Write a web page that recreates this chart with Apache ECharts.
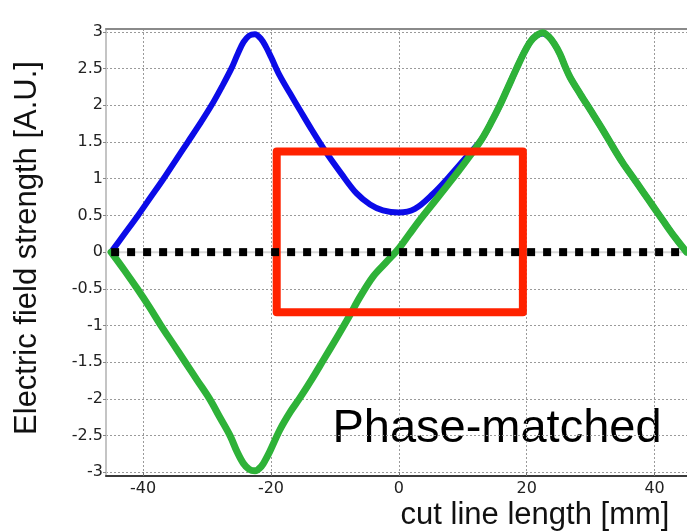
<!DOCTYPE html>
<html>
<head>
<meta charset="utf-8">
<title>Electric field along the cut line</title>
<script src="https://cdn.jsdelivr.net/npm/echarts@6/dist/echarts.min.js"></script>
<style>
  html, body { margin: 0; padding: 0; background: #ffffff; }
  #chart { width: 687px; height: 531px; }
</style>
</head>
<body>
<div id="chart"></div>
<script>
// Field profile along the cut line (x in mm, field in arbitrary units)
const blueX = [-45, -42.9, -40.8, -38.8, -36.8, -34.9, -33.0, -31.1, -29.3, -27.7, -26.2, -25.2, -24.3, -23.4, -22.5,
  -21.6, -20.8, -20, -18.6, -17, -15.5, -13.5, -11.3, -9, -6.6, -4.5, -2.5, 0, 2.5, 5.4, 8, 10.6,
  12.9, 14.4, 15.8, 17.1, 18.4, 19.6, 20.6, 21.5, 22.5, 23.4, 24.3, 25.2, 26, 26.8, 28.4, 30, 31.8,
  33.5, 35, 36.6, 38.2, 39.8, 41.4, 43.2, 45];
const blueY = [0, 0.25, 0.5, 0.75, 1.0, 1.25, 1.5, 1.75, 2.0, 2.25, 2.5, 2.7, 2.86, 2.95, 2.97,
  2.91, 2.8, 2.66, 2.4, 2.16, 1.94, 1.65, 1.35, 1.07, 0.8, 0.65, 0.57, 0.54, 0.59, 0.8, 1.04, 1.3,
  1.53, 1.76, 2.0, 2.25, 2.5, 2.72, 2.87, 2.95, 2.98, 2.94, 2.84, 2.7, 2.53, 2.38, 2.15, 1.93, 1.68,
  1.43, 1.22, 1.02, 0.82, 0.62, 0.42, 0.2, 0];

const greenX = [-45, -42.9, -40.9, -39.0, -37.2, -35.3, -33.4, -31.5, -29.6, -28, -26.4, -25.3, -24.3, -23.4, -22.5,
  -21.5, -20.8, -20.2, -18.6, -17, -15.5, -13.6, -11.8, -9.8, -7.8, -6, -4, -2, 0, 1.6, 3.3, 5.4,
  7.5, 9.3, 11.1, 12.9, 14.4, 15.8, 17.1, 18.4, 19.6, 20.6, 21.5, 22.5, 23.4, 24.3, 25.2, 26, 26.8,
  28.4, 30, 31.8, 33.5, 35, 36.6, 38.2, 39.8, 41.4, 43.2, 45];
const greenY = [0, -0.25, -0.5, -0.75, -1.0, -1.25, -1.5, -1.75, -2.0, -2.25, -2.5, -2.72, -2.88, -2.96, -2.98,
  -2.92, -2.82, -2.72, -2.42, -2.18, -1.99, -1.73, -1.47, -1.18, -0.88, -0.6, -0.33, -0.14, 0.05, 0.24, 0.44, 0.67,
  0.9, 1.1, 1.31, 1.53, 1.76, 2.0, 2.25, 2.5, 2.72, 2.87, 2.95, 2.99, 2.94, 2.84, 2.7, 2.53, 2.38,
  2.15, 1.93, 1.68, 1.43, 1.22, 1.02, 0.82, 0.62, 0.42, 0.2, 0];

// Zero reference (dotted) across the field region
const zeroX = [-45, 45];
const zeroY = [0, 0];

// Highlighted window around the centre
const boxX = [-19.1, 19.4, 19.4, -19.1, -19.1];
const boxY = [1.37, 1.37, -0.82, -0.82, 1.37];

// Axis extents and tick labels
const xRange = [-45.8, 45.07];
const yRange = [-3.05, 3.04];
const xTicks = [-40, -20, 0, 20, 40];
const yTicks = [-3, -2.5, -2, -1.5, -1, -0.5, 0, 0.5, 1, 1.5, 2, 2.5, 3];

const zip = (xs, ys) => xs.map((x, i) => [x, ys[i]]);
const FONT = '"Liberation Sans", Arial, Helvetica, sans-serif';
const TICK_FONT = '"DejaVu Sans", sans-serif';

const chart = echarts.init(document.getElementById('chart'), null, { renderer: 'canvas' });

chart.setOption({
  animation: false,
  backgroundColor: '#ffffff',
  grid: { left: 106, top: 29, right: 0, bottom: 55, containLabel: false },
  xAxis: [{
    type: 'value',
    position: 'bottom',
    min: xRange[0],
    max: xRange[1],
    axisLine: { show: true, onZero: false, lineStyle: { color: '#3a3a3a', width: 2 } },
    axisTick: { show: true, inside: true, length: 4, customValues: xTicks, lineStyle: { color: '#777' } },
    axisLabel: { customValues: xTicks, color: '#222', fontFamily: TICK_FONT, fontSize: 16, margin: 5 },
    splitLine: { show: true, lineStyle: { color: '#9a9a9a', width: 1, type: [2, 2] } }
  }, {
    type: 'value',
    position: 'top',
    min: xRange[0],
    max: xRange[1],
    axisLine: { show: true, onZero: false, lineStyle: { color: '#8a8a8a', width: 2 } },
    axisTick: { show: false },
    axisLabel: { show: false },
    splitLine: { show: false }
  }],
  yAxis: {
    type: 'value',
    min: yRange[0],
    max: yRange[1],
    axisLine: { show: true, onZero: false, lineStyle: { color: '#c4c4c4', width: 2 } },
    axisTick: { show: true, inside: false, length: 3, customValues: yTicks, lineStyle: { color: '#888' } },
    axisLabel: { customValues: yTicks, color: '#222', fontFamily: TICK_FONT, fontSize: 16, margin: 3 },
    splitLine: { show: true, lineStyle: { color: '#9a9a9a', width: 1, type: [2, 2] } }
  },
  series: [
    {
      name: 'zero guide',
      type: 'line',
      data: zip(xRange, zeroY),
      showSymbol: false,
      silent: true,
      lineStyle: { color: '#d6d6d6', width: 2 },
      z: 1
    },
    {
      name: 'field A',
      type: 'line',
      data: zip(blueX, blueY),
      smooth: 0.35,
      showSymbol: false,
      lineStyle: { color: '#0b0be8', width: 6, cap: 'round', join: 'round' },
      z: 2
    },
    {
      name: 'field B',
      type: 'line',
      data: zip(greenX, greenY),
      smooth: 0.35,
      showSymbol: false,
      lineStyle: { color: '#2eb238', width: 7, cap: 'round', join: 'round' },
      z: 3
    },
    {
      name: 'window',
      type: 'line',
      data: zip(boxX, boxY),
      showSymbol: false,
      lineStyle: { color: '#ff2200', width: 8, cap: 'round', join: 'round' },
      z: 4
    },
    {
      name: 'zero',
      type: 'line',
      data: zip(zeroX, zeroY),
      showSymbol: false,
      lineStyle: { color: '#000000', width: 8, type: [8, 8], cap: 'butt' },
      z: 5
    }
  ],
  graphic: [
    {
      type: 'text',
      x: 27,
      y: 248,
      rotation: Math.PI / 2,
      style: {
        text: 'Electric field strength [A.U.]',
        font: '31px ' + FONT,
        fill: '#111',
        textAlign: 'center',
        textVerticalAlign: 'middle'
      }
    },
    {
      type: 'text',
      x: 535,
      y: 515,
      style: {
        text: 'cut line length [mm]',
        font: '31px ' + FONT,
        fill: '#111',
        textAlign: 'center',
        textVerticalAlign: 'middle'
      }
    },
    {
      type: 'text',
      x: 497,
      y: 429,
      style: {
        text: 'Phase-matched',
        font: '47px ' + FONT,
        fill: '#000',
        textAlign: 'center',
        textVerticalAlign: 'middle'
      }
    }
  ]
});
</script>
</body>
</html>
